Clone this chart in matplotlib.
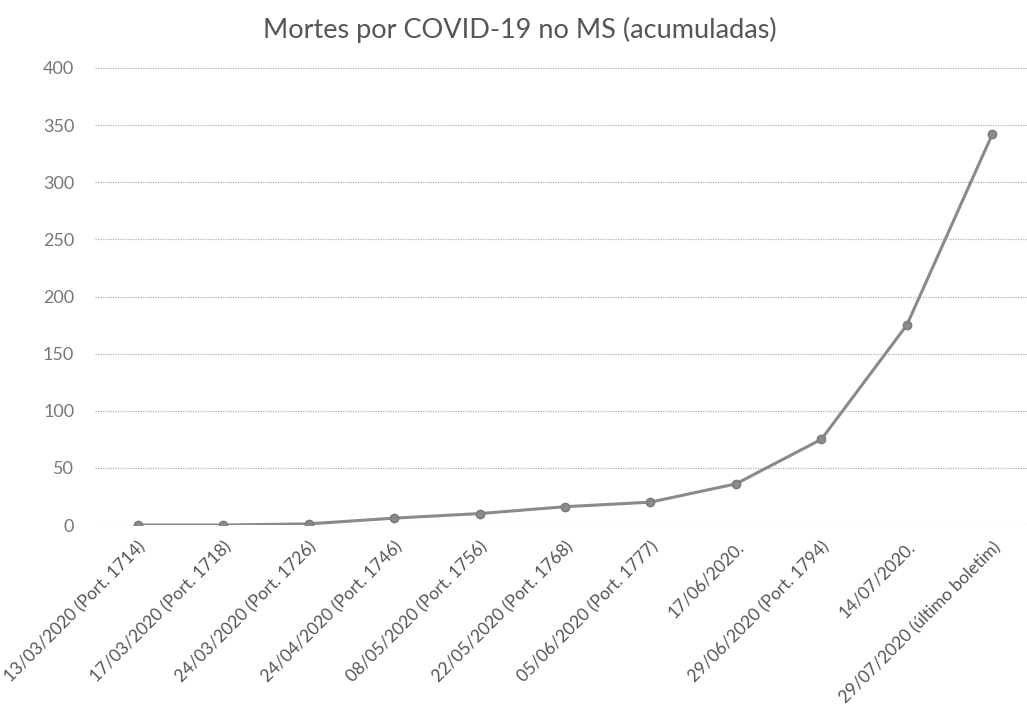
import matplotlib
matplotlib.use("Agg")
import matplotlib.pyplot as plt

datas = ["13/03/2020 (Port. 1714)", "17/03/2020 (Port. 1718)", "24/03/2020 (Port. 1726)",
         "24/04/2020 (Port. 1746)", "08/05/2020 (Port. 1756)", "22/05/2020 (Port. 1768)",
         "05/06/2020 (Port. 1777)", "17/06/2020.", "29/06/2020 (Port. 1794)",
         "14/07/2020.", "29/07/2020 (último boletim)"]
mortes = [0, 0, 1, 6, 10, 16, 20, 36, 75, 175, 342]
yticks = [0, 50, 100, 150, 200, 250, 300, 350, 400]

plt.rcParams['font.family'] = ['Lato', 'DejaVu Sans']

fig = plt.figure(figsize=(10.27, 7.06), dpi=100)
ax = fig.add_axes([95 / 1027, 181 / 706, 940 / 1027, 457 / 706])

x = list(range(len(datas)))
ax.plot(x, mortes, color="#8a8a8a", linewidth=2.2, marker="o", markersize=6,
        markerfacecolor="#8a8a8a", markeredgecolor="#7a7a7a", zorder=3)

ax.set_xlim(-0.5, len(datas) - 0.5)
ax.set_ylim(0, 400)
ax.set_yticks(yticks)
ax.set_xticks(x)
ax.set_xticklabels(datas, rotation=45, ha="right", rotation_mode="anchor")
ax.tick_params(axis="both", length=0)
ax.tick_params(axis="x", pad=10, labelcolor="#555555", labelsize=12.5)
ax.tick_params(axis="y", pad=15, labelcolor="#777777", labelsize=13)
ax.grid(axis="y", color="#b0b0b0", linestyle=(0, (1, 1)), linewidth=0.9)
ax.set_axisbelow(True)
for s in ax.spines.values():
    s.set_visible(False)

fig.text(0.506, 0.957, "Mortes por COVID-19 no MS (acumuladas)", ha="center", va="center",
         fontsize=19.5, color="#555555")

fig.savefig("out.png", dpi=100)
